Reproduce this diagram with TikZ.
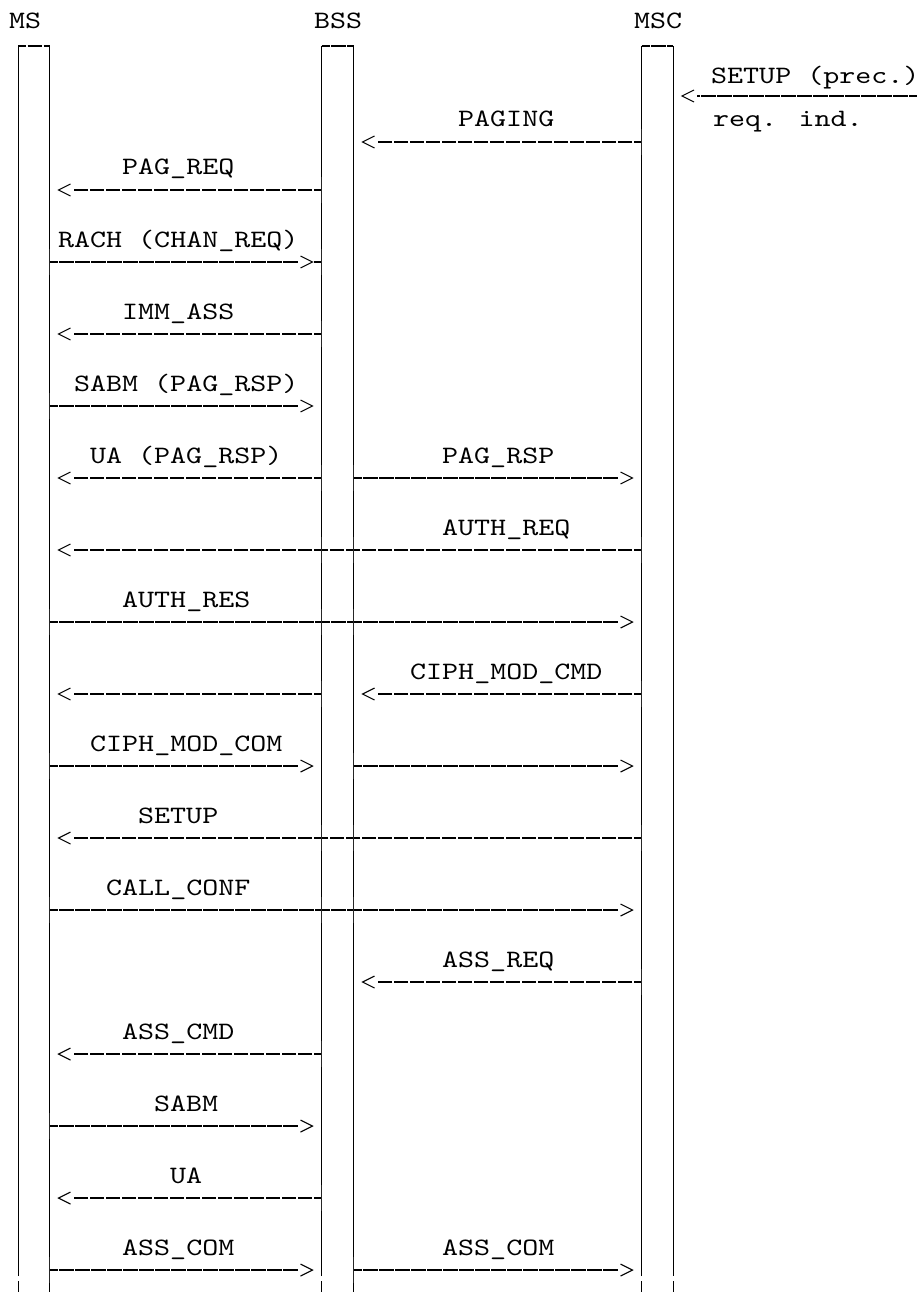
\documentclass[tikz,border=0pt]{standalone}
\usepackage{fontspec}
\usetikzlibrary{arrows.meta}
\newfontfamily\msgfont{lmmono10-regular}[Extension=.otf,FakeStretch=1.22]

% open "<" head with a small gap before the line
\pgfdeclarearrow{
    name = Chevron,
    setup code = {
        \pgfarrowssettipend{0pt}
        \pgfarrowssetbackend{-12pt}
        \pgfarrowssetlineend{-15pt}
    },
    drawing code = {
        \pgfsetdash{}{0pt}
        \pgfsetlinewidth{1.1pt}
        \pgfpathmoveto{\pgfqpoint{-12pt}{6pt}}
        \pgfpathlineto{\pgfqpoint{0pt}{0pt}}
        \pgfpathlineto{\pgfqpoint{-12pt}{-6pt}}
        \pgfusepathqstroke
    }
}

\tikzset{
    lbl/.style={font=\msgfont\fontsize{25}{30}\selectfont, anchor=base west, inner sep=0pt},
    life/.style={line width=1pt},
    wire/.style={line width=1.5pt, dash pattern=on 14.5pt off 1.5pt, dash phase=6.5pt},
    msg/.style={wire, -{Chevron[]}, shorten >=9pt},
    tick/.style={line width=1.7pt, black!85},
}

\begin{document}
\begin{tikzpicture}[x=1pt,y=-1pt]
    \useasboundingbox (0,0) rectangle (917,1292);
    % lifelines
    \coordinate (msL) at (18,46);
    \coordinate (msR) at (49.5,46);
    \coordinate (bssL) at (321.5,46);
    \coordinate (bssR) at (353.5,46);
    \coordinate (mscL) at (641.5,46);
    \coordinate (mscR) at (673,46);
    \node (ms) at (9,29) [lbl] {MS};
    \node (bss) at (314,29) [lbl] {BSS};
    \node (msc) at (634,29) [lbl] {MSC};
    \foreach \a/\b in {msL/msR, bssL/bssR, mscL/mscR} {
        \draw[life] (\a |- 0,1276) -- (\a) (\b) -- (\b |- 0,1276);
        \draw[life] (\a |- 0,1281) -- (\a |- 0,1292) (\b |- 0,1281) -- (\b |- 0,1292);
        \draw[wire] (\a) -- (\b);
    }
    % rows
    \foreach \r/\y in {prec/96, paging/142, pagreq/190, rach/262, imm/334, sabmA/406,
            uaA/478, authreq/550, authres/622, ciphcmd/694, ciphcom/766, setup/838,
            callconf/910, assreq/982, asscmd/1054, sabmB/1126, uaB/1198, asscom/1270}
        \coordinate (\r) at (0,\y);
    \coordinate (ext) at (917,96);
    % messages
    \draw[msg] (ext) -- (mscR |- prec);
    \foreach \f/\t/\r in {mscL/bssR/paging, bssL/msR/pagreq, msR/bssL/rach, bssL/msR/imm,
            msR/bssL/sabmA, bssL/msR/uaA, bssR/mscL/uaA, mscL/msR/authreq, msR/mscL/authres,
            bssL/msR/ciphcmd, mscL/bssR/ciphcmd, msR/bssL/ciphcom, bssR/mscL/ciphcom,
            mscL/msR/setup, msR/mscL/callconf, mscL/bssR/assreq, bssL/msR/asscmd,
            msR/bssL/sabmB, bssL/msR/uaB, msR/bssL/asscom, bssR/mscL/asscom}
        \draw[msg] (\f |- \r) -- (\t |- \r);
    \draw[wire] (bssL |- rach) -- ++(-8,0);
    % ticks on the lifelines
    \foreach \l/\r in {mscL/paging, bssL/pagreq, msR/rach, bssL/rach, bssL/imm, msR/sabmA,
            bssL/uaA, bssR/uaA, mscL/authreq, bssR/authreq, bssL/authreq, msR/authres,
            bssL/authres, bssR/authres, bssL/ciphcmd, mscL/ciphcmd, msR/ciphcom, bssR/ciphcom,
            mscL/setup, bssR/setup, bssL/setup, msR/callconf, bssL/callconf, bssR/callconf,
            mscL/assreq, bssL/asscmd, msR/sabmB, bssL/uaB, msR/asscom, bssR/asscom}
        \draw[tick] (\l |- \r) ++(0,-13) -- ++(0,26);
    % labels
    \node (tprec) at (711,84) [lbl] {SETUP (prec.)};
    \node (tind) at (713,127) [lbl] {req. ind.};
    \node (tpaging) at (458,127) [lbl] {PAGING};
    \node (tpagreq) at (122,175) [lbl] {PAG\_REQ};
    \node (track) at (58,247) [lbl] {RACH (CHAN\_REQ)};
    \node (timm) at (122,319) [lbl] {IMM\_ASS};
    \node (tsabmA) at (74,391) [lbl] {SABM (PAG\_RSP)};
    \node (tuaA) at (90,463) [lbl] {UA (PAG\_RSP)};
    \node (tpagrsp) at (442,463) [lbl] {PAG\_RSP};
    \node (tauthreq) at (442,535) [lbl] {AUTH\_REQ};
    \node (tauthres) at (122,607) [lbl] {AUTH\_RES};
    \node (tciphcmd) at (410,679) [lbl] {CIPH\_MOD\_CMD};
    \node (tciphcom) at (90,751) [lbl] {CIPH\_MOD\_COM};
    \node (tsetup) at (138,823) [lbl] {SETUP};
    \node (tcallconf) at (106,895) [lbl] {CALL\_CONF};
    \node (tassreq) at (442,967) [lbl] {ASS\_REQ};
    \node (tasscmd) at (122,1039) [lbl] {ASS\_CMD};
    \node (tsabmB) at (154,1111) [lbl] {SABM};
    \node (tuaB) at (170,1183) [lbl] {UA};
    \node (tasscomA) at (122,1255) [lbl] {ASS\_COM};
    \node (tasscomB) at (442,1255) [lbl] {ASS\_COM};
\end{tikzpicture}
\end{document}
